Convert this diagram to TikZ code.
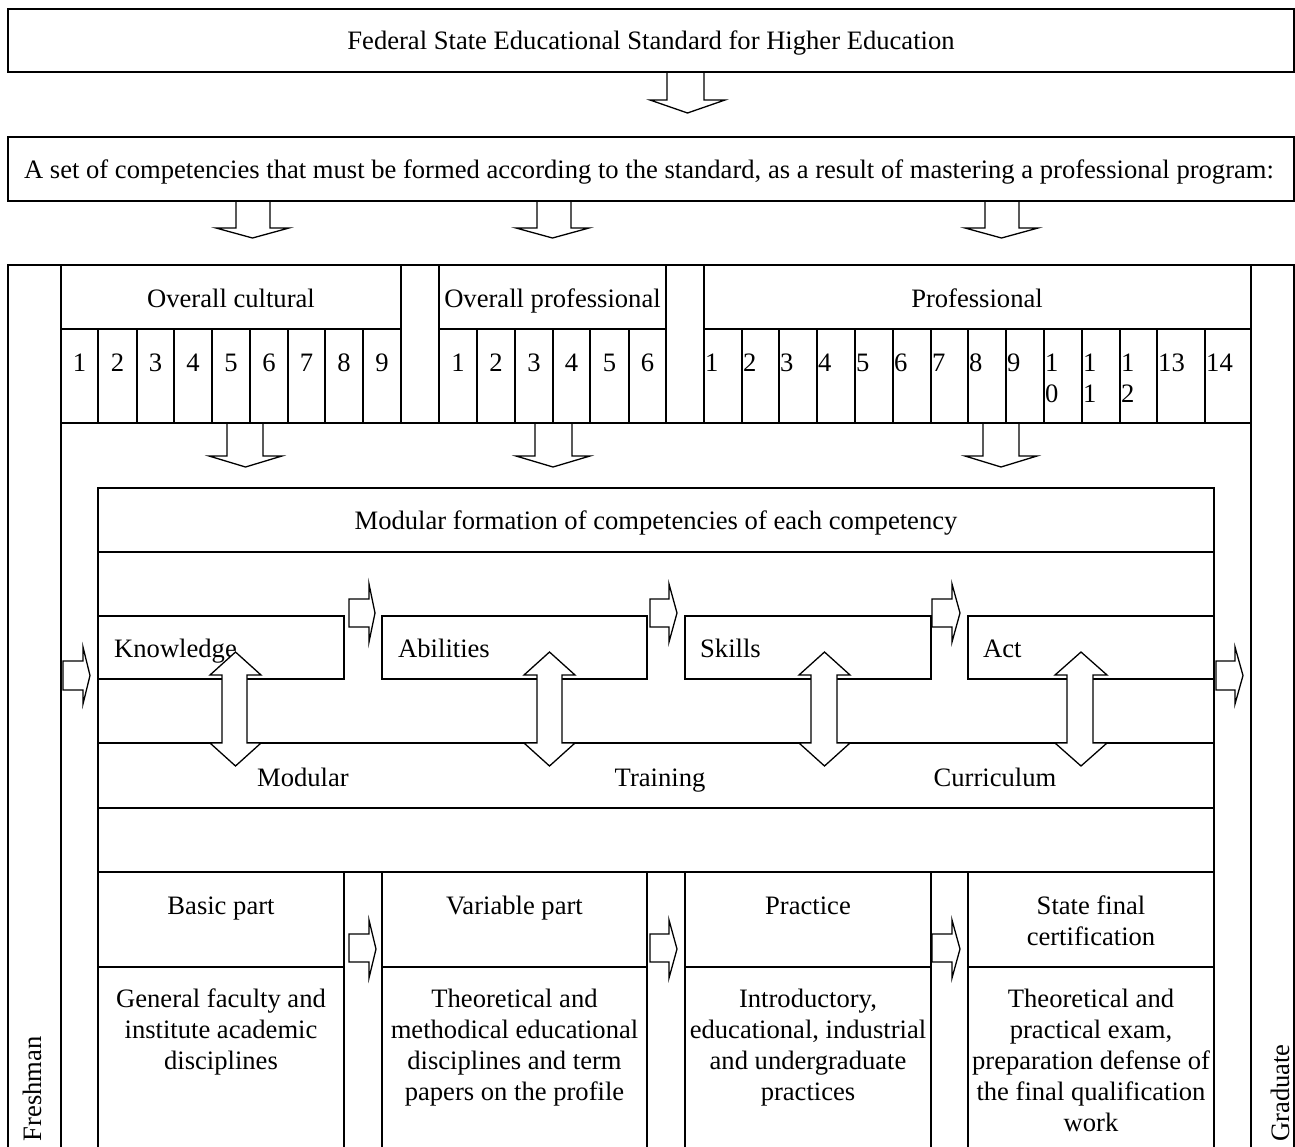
\documentclass[tikz,border=0pt]{standalone}
\usepackage{fontspec}
\setmainfont{Liberation Serif}
\newcommand{\blkdown}[7]{% hx0 sx0 sx1 hx1 ytop ybase ytip
  \draw[blk] (#2,#5) -- (#2,#6) -- (#1,#6) -- ({(#1+#4)/2},#7) -- (#4,#6) -- (#3,#6) -- (#3,#5) -- cycle;}
\newcommand{\blkright}[7]{% x0 xb xt sy0 sy1 hy0 hy1
  \draw[blk] (#1,#4) -- (#2,#4) -- (#2,#6) -- (#3,{(#6+#7)/2}) -- (#2,#7) -- (#2,#5) -- (#1,#5) -- cycle;}
\newcommand{\blkdouble}[8]{% hx0 sx0 sx1 hx1 ytip1 yb1 yb2 ytip2
  \draw[blk] ({(#1+#4)/2},#5) -- (#4,#6) -- (#3,#6) -- (#3,#7) -- (#4,#7) -- ({(#1+#4)/2},#8) -- (#1,#7) -- (#2,#7) -- (#2,#6) -- (#1,#6) -- cycle;}
\tikzset{
  ln/.style={line width=1.8pt, line cap=rect},
  blk/.style={draw, fill=white, line width=1.3pt, line join=miter},
  txt/.style={font=\fontsize{26.6}{31}\selectfont, inner sep=0pt},
}
\begin{document}
\begin{tikzpicture}[x=1pt,y=-1pt]
\useasboundingbox[fill=white] (0,0) rectangle (1295,1146);

% down block arrows (behind lines)
\blkdown{650}{667}{704}{725}{72}{100}{113}
\blkdown{216}{236}{270}{289}{201}{228}{238}
\blkdown{516}{537}{571}{589}{201}{228}{238}
\blkdown{965}{985}{1019}{1038}{201}{228}{238}
\blkdown{209}{227}{263}{282}{423}{456}{467}
\blkdown{516}{535}{572}{590}{423}{456}{467}
\blkdown{965}{983}{1019}{1037}{423}{456}{467}

% top boxes
\draw[ln] (8,9) rectangle (1294,72);
\draw[ln] (8,137) rectangle (1294,201);

% outer frame
\draw[ln] (8,1146) -- (8,265) -- (1294,265) -- (1294,1146);
\draw[ln] (61,265) -- (61,1146);
\draw[ln] (1251,265) -- (1251,1146);
\draw[ln] (61,329) -- (401,329);
\draw[ln] (439,329) -- (666,329);
\draw[ln] (704,329) -- (1251,329);
\foreach \x in {401,439,666,704}
  \draw[ln] (\x,265) -- (\x,423);
\draw[ln] (61,423) -- (1251,423);
\foreach \x in {98,137,174,212,250,288,325,363,477,515,553,590,629,742,779,817,855,893,931,968,1006,1044,1082,1120,1157,1205}
  \draw[ln] (\x,329) -- (\x,423);

% inner box
\draw[ln] (98,1146) -- (98,488) -- (1214,488) -- (1214,1146);
\draw[ln] (98,552) -- (1214,552);
\draw[ln] (98,616) rectangle (344,679);
\draw[ln] (382,616) rectangle (647,679);
\draw[ln] (685,616) rectangle (931,679);
\draw[ln] (968,616) rectangle (1214,679);
\draw[ln] (98,743) -- (1214,743);
\draw[ln] (98,808) -- (1214,808);
\draw[ln] (98,872) -- (1214,872);
\foreach \x in {344,382,647,685,931,968}
  \draw[ln] (\x,872) -- (\x,1146);
\draw[ln] (98,967) -- (344,967);
\draw[ln] (382,967) -- (647,967);
\draw[ln] (685,967) -- (931,967);
\draw[ln] (968,967) -- (1214,967);

% texts
\node[txt, anchor=base] (fses) at (651,49) {Federal State Educational Standard for Higher Education};
\node[txt, anchor=base] (set) at (649,178) {A set of competencies that must be formed according to the standard, as a result of mastering a professional program:};
\node[txt, anchor=base] (oc) at (231,307) {Overall cultural};
\node[txt, anchor=base] (op) at (552.5,307) {Overall professional};
\node[txt, anchor=base] (pr) at (977,307) {Professional};

\foreach \n/\x in {1/79.5,2/117.5,3/155.5,4/193,5/231,6/269,7/306.5,8/344,9/382}
  \node[txt, anchor=base] (oc\n) at (\x,371) {\n};
\foreach \n/\x in {1/458,2/496,3/534,4/571.5,5/609.5,6/647.5}
  \node[txt, anchor=base] (op\n) at (\x,371) {\n};
\foreach \n/\x in {1/704,2/742,3/779,4/817,5/855,6/893,7/931,8/968,9/1006,13/1157,14/1205}
  \node[txt, anchor=base west] (pr\n) at (\x+1,371) {\n};
\foreach \n/\a/\x in {10/0/1044,11/1/1082,12/2/1120}
  \node[txt, anchor=north west, align=left] (pr\n) at (\x+1,349.3) {\strut 1\\\a};

\node[txt, anchor=base] (mf) at (656,529) {Modular formation of competencies of each competency};
\node[txt, anchor=base west] (kn) at (114,657) {Knowledge};
\node[txt, anchor=base west] (ab) at (398,657) {Abilities};
\node[txt, anchor=base west] (sk) at (700,657) {Skills};
\node[txt, anchor=base west] (act) at (983,657) {Act};
\node[txt, anchor=base] (mod) at (303,786) {Modular};
\node[txt, anchor=base] (tr) at (660,786) {Training};
\node[txt, anchor=base] (cu) at (995,786) {Curriculum};

\node[txt, anchor=base] (bp) at (221,914) {Basic part};
\node[txt, anchor=base] (vp) at (514.5,914) {Variable part};
\node[txt, anchor=base] (pc) at (808,914) {Practice};
\node[txt, anchor=north, align=center] (sf) at (1091,892.3) {\strut State final\\certification};
\node[txt, anchor=north, align=center] (bpt) at (221,985.3) {\strut General faculty and\\institute academic\\disciplines};
\node[txt, anchor=north, align=center] (vpt) at (514.5,985.3) {\strut Theoretical and\\methodical educational\\disciplines and term\\papers on the profile};
\node[txt, anchor=north, align=center] (pct) at (808,985.3) {\strut Introductory,\\educational, industrial\\and undergraduate\\practices};
\node[txt, anchor=north, align=center] (sft) at (1091,985.3) {\strut Theoretical and\\practical exam,\\preparation defense of\\the final qualification\\work};

\node[txt, rotate=90, anchor=base east] (fr) at (41,1036) {Freshman};
\node[txt, rotate=90, anchor=base east] (gr) at (1289,1044) {Graduate};

% right block arrows
\blkright{63}{83}{90}{661}{690}{647}{704}
\blkright{349}{369}{375}{599}{627}{584}{642}
\blkright{650}{669}{677}{599}{627}{584}{642}
\blkright{932}{952}{960}{599}{627}{584}{642}
\blkright{1216}{1235}{1243}{661}{690}{647}{704}
\blkright{349}{369}{376}{934}{962}{920}{978}
\blkright{650}{669}{677}{934}{962}{920}{978}
\blkright{932}{952}{960}{934}{962}{920}{978}

% double vertical block arrows
\blkdouble{210}{222}{247}{261}{652}{675}{743}{766}
\blkdouble{524}{537}{562}{575}{652}{675}{743}{766}
\blkdouble{799}{811}{837}{850}{652}{675}{743}{766}
\blkdouble{1055}{1067}{1093}{1107}{652}{675}{743}{766}
\end{tikzpicture}
\end{document}
